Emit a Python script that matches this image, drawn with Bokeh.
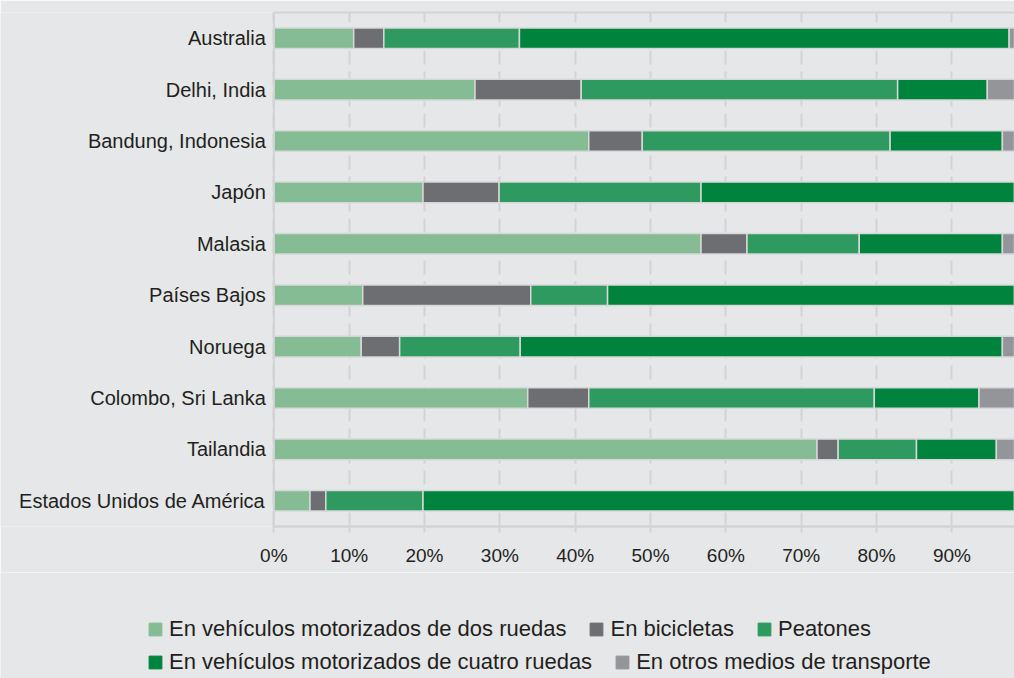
from bokeh.plotting import figure
from bokeh.layouts import column
from bokeh.core.properties import value
from bokeh.models import (ColumnDataSource, FactorRange, Range1d, FixedTicker,
                          Legend, LegendItem, LinearAxis, Span)
from bokeh.embed import file_html
from bokeh.resources import INLINE

countries = ["Australia", "Delhi, India", "Bandung, Indonesia", "Japón", "Malasia",
             "Países Bajos", "Noruega", "Colombo, Sri Lanka", "Tailandia",
             "Estados Unidos de América"]
dos_ruedas = [10.6, 26.7, 41.8, 19.8, 56.7, 11.8, 11.6, 33.7, 72.1, 4.8]
bicicletas = [4.0, 14.1, 7.1, 10.1, 6.1, 22.3, 5.1, 8.1, 2.8, 2.1]
peatones = [18.0, 42.0, 32.9, 26.8, 14.9, 10.2, 16.0, 37.9, 10.4, 12.9]
cuatro_ruedas = [65.0, 11.9, 14.9, 43.3, 19.0, 55.7, 64.0, 13.9, 10.6, 80.2]
otros = [2.4, 5.3, 3.3, 0.0, 3.3, 0.0, 3.3, 6.4, 4.1, 0.0]

series_keys = ["dos", "bici", "peat", "cuatro", "otros"]
series_labels = ["En vehículos motorizados de dos ruedas", "En bicicletas", "Peatones",
                 "En vehículos motorizados de cuatro ruedas", "En otros medios de transporte"]
colors = ["#86bc94", "#6d6e71", "#2e9a5f", "#00843d", "#939598"]

tick_values = [0, 10, 20, 30, 40, 50, 60, 70, 80, 90, 100]
tick_labels = ["0%", "10%", "20%", "30%", "40%", "50%", "60%", "70%", "80%", "90%", "100%"]

BG = "#e6e7e8"
GRID = "#d1d3d4"
TEXT = "#231f20"
FONT = "Liberation Sans"

source = ColumnDataSource(dict(country=countries, dos=dos_ruedas, bici=bicicletas,
                               peat=peatones, cuatro=cuatro_ruedas, otros=otros))

# main chart: the frame spans the whole width; the value scale starts at 0 = x 273
p = figure(width=1014, height=572, output_backend="svg", toolbar_location=None,
           y_range=FactorRange(factors=list(reversed(countries))),
           x_range=Range1d(-36.28, 98.31), y_axis_location=None,
           min_border_left=0, min_border_right=0, min_border_top=12,
           min_border_bottom=46)
p.background_fill_color = BG
p.border_fill_color = BG
p.outline_line_color = None

p.ygrid.grid_line_color = None
p.xgrid.grid_line_color = GRID
p.xgrid.grid_line_width = 2
p.xgrid.grid_line_dash = "14 7"
p.xgrid.ticker = FixedTicker(ticks=tick_values)

renderers = p.hbar_stack(series_keys, y="country", height=0.4, color=colors,
                         line_color="#d6d7d8", line_width=1.5, source=source)

# category labels, right-aligned against the 0% line
p.text(x=0, y="country", text="country", source=source, x_offset=-8,
       text_align="right", text_baseline="middle", text_font=value(FONT),
       text_font_size="20px", text_color=TEXT)

# left axis line at 0%
p.add_layout(Span(location=0, dimension="height", line_color=GRID, line_width=2))

# bottom value axis
bottom = p.below[0]
bottom.bounds = (0, 100)
bottom.ticker = FixedTicker(ticks=tick_values)
bottom.major_label_overrides = {v: l for v, l in zip(tick_values, tick_labels)}
bottom.axis_line_color = GRID
bottom.axis_line_width = 2.5
bottom.major_tick_line_color = GRID
bottom.major_tick_line_width = 2
bottom.major_tick_out = 6
bottom.major_tick_in = 0
bottom.minor_tick_line_color = None
bottom.major_label_text_font = FONT
bottom.major_label_text_font_size = "19px"
bottom.major_label_text_color = TEXT
bottom.major_label_standoff = 12

# top border line (axis line only, no ticks or labels)
top = LinearAxis(bounds=(0, 100), ticker=FixedTicker(ticks=[]),
                 axis_line_color=GRID, axis_line_width=2,
                 major_tick_line_color=None, minor_tick_line_color=None,
                 major_tick_out=0, major_tick_in=0, major_label_standoff=0)
p.add_layout(top, "above")

# legend strip below the chart
leg = figure(width=1014, height=106, output_backend="svg", toolbar_location=None,
             x_range=Range1d(0, 1), y_range=Range1d(0, 1),
             x_axis_location=None, y_axis_location=None,
             min_border=0)
leg.background_fill_color = BG
leg.border_fill_color = BG
leg.outline_line_color = None
leg.grid.grid_line_color = None

# hidden swatch renderers, used only for the legend keys
swatches = []
for key, c in zip(series_keys, colors):
    r = leg.hbar(y="country", right=key, height=0.4, color=c, line_color=c,
                 source=source)
    r.visible = False
    swatches.append(r)

def make_legend(idx, loc):
    items = [LegendItem(label=series_labels[i], renderers=[swatches[i]]) for i in idx]
    return Legend(items=items, location=loc, orientation="horizontal",
                  glyph_width=16, glyph_height=16, label_standoff=6, spacing=22,
                  padding=0, margin=0, border_line_color=None,
                  background_fill_alpha=0, inactive_fill_alpha=0,
                  label_text_font=FONT,
                  label_text_font_size="22px", label_text_color=TEXT,
                  label_height=16, click_policy="none")

leg.add_layout(make_legend([0, 1, 2], (147, 36)))
leg.add_layout(make_legend([3, 4], (147, 3)))

layout = column(p, leg, spacing=0)
open("out.html", "w").write(file_html(layout, INLINE))
